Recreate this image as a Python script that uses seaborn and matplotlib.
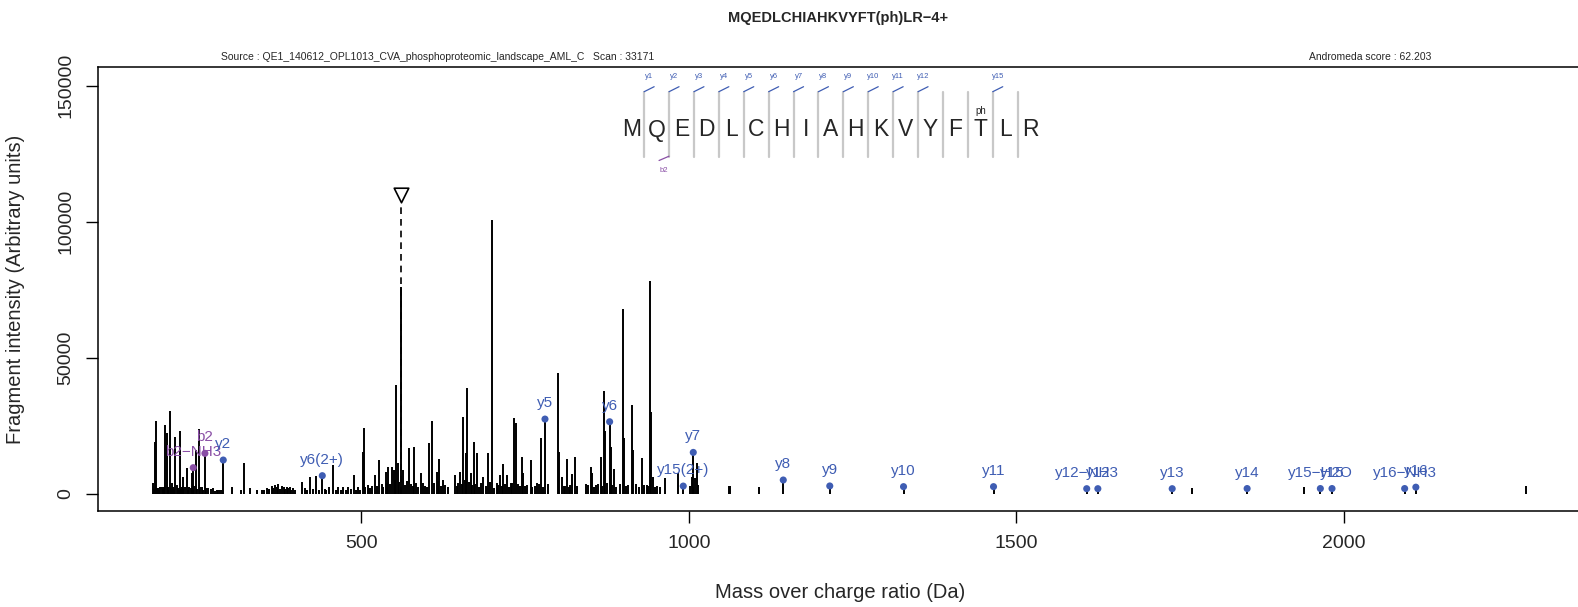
import matplotlib
matplotlib.use('Agg')
import matplotlib.pyplot as plt
import seaborn as sns
import pandas as pd

sns.set_style('ticks')
plt.rcParams['font.family'] = ['Liberation Sans', 'DejaVu Sans']

# ---------------- data ----------------
peak_mz = [182.2, 184.7, 186.2, 189.8, 192.3, 194.9, 200.0, 202.5, 205.1, 207.6, 210.1, 212.7,
           215.2, 217.8, 222.9, 225.4, 228.0, 233.0, 237.1, 240.7, 247.3, 251.9, 256.0, 266.1,
           273.8, 278.8, 283.9, 301.7, 320.6, 329.7, 347.5, 355.2, 362.8, 367.9, 373.0, 378.1,
           385.7, 390.8, 395.9, 408.6, 413.7, 421.3, 430.0, 450.3, 457.0, 464.6, 472.2, 479.9,
           489.0, 495.1,
           501.8, 503.8, 510.5, 520.6, 527.3, 536.9, 541.0, 546.1, 549.6, 552.7, 556.3, 560.3,
           563.9, 572.5, 580.2, 590.9, 594.4, 603.6, 608.2, 614.8, 618.9, 625.0, 642.8, 650.4,
           655.5, 659.6, 661.6, 666.7, 671.8, 676.9, 686.0, 692.6, 699.3, 706.4, 711.5, 716.6,
           721.7, 727.8, 732.8, 735.4, 744.5, 747.1, 758.3, 767.5, 774.1, 800.0, 802.0, 805.6,
           813.2, 821.9, 825.9, 842.2, 849.9, 852.4, 857.5, 865.1, 870.2, 871.7, 880.9, 885.5,
           898.7, 900.7, 907.4, 912.4, 915.0, 927.7, 935.3, 940.9, 942.5, 944.5, 951.6, 963.3,
           982.7, 1004.1, 1009.1, 1011.7, 1014.2,
           1060.5, 1063.0, 1107.6, 1767.3, 1939.0, 2278.6]
peak_int = [3900, 19220, 26940, 2070, 2680, 2440, 25350, 22280, 2680, 30490, 3910, 2680,
            21060, 3300, 23140, 2680, 6360, 9420, 2680, 7580, 16160, 23750, 2680, 2070,
            2070, 1460, 1460, 2680, 11260, 2070, 1460, 2070, 2930, 3300, 3660, 2930,
            2680, 2680, 2070, 4520, 2070, 6360, 6600, 2680, 10650, 2440, 2680, 2440,
            6970, 2680,
            15530, 24100, 3280, 6950, 12460, 8180, 9770, 10020, 8790, 40030, 11240, 75920,
            8790, 16750, 17360, 7560, 3890, 18830, 26920, 8180, 12710, 5110, 6950, 8180,
            28140, 14910, 39050, 7560, 19200, 15160, 6340, 14910, 100660, 3890, 6950, 11000,
            6950, 3890, 27780, 25940, 13440, 7560, 12460, 3890, 20670, 44560, 15530, 6340,
            12710, 7320, 13440, 3650, 10020, 7810, 3280, 13690, 37940, 23240, 17360, 9280,
            67830, 20430, 3280, 32550, 16140, 13080, 3280, 78370, 30220, 6340, 3030, 5730,
            7560, 6340, 5730, 11240, 3280,
            3000, 2800, 2500, 2100, 2500, 3000]

# small baseline peaks
noise_mz = [183.5, 188.0, 191.0, 196.5, 198.5, 204.0, 209.0, 214.0, 219.5, 221.0, 224.0, 227.0,
            230.5, 235.0, 239.0, 244.5, 249.5, 254.0, 258.5, 262.5, 270.0, 276.0, 281.5, 286.5,
            316.0, 341.0, 351.0, 359.0, 365.0, 370.5, 375.5, 381.0, 383.5, 388.0, 393.0, 399.0,
            417.0, 426.0, 435.0, 444.0, 446.5, 461.0, 468.5, 476.0, 484.0, 492.0, 498.0,
            506.0, 513.0, 516.0, 523.5, 531.0, 533.5, 538.5, 543.5, 551.0, 558.0, 566.5, 569.0,
            575.5, 578.0, 583.5, 587.0, 597.5, 600.5, 611.5, 616.5, 621.5, 628.0, 632.5, 645.5,
            648.0, 653.0, 657.5, 664.0, 669.0, 674.0, 680.0, 683.0, 689.5, 695.5, 702.5, 709.0,
            714.0, 719.0, 724.5, 730.5, 738.5, 741.5, 750.0, 753.5, 761.0, 764.5, 770.5, 777.5,
            784.5, 808.5, 811.0, 816.5, 819.0, 829.0, 846.0, 855.0, 861.5, 868.0, 875.5, 883.0,
            888.5, 895.0, 904.0, 919.0, 924.0, 931.0, 938.0, 947.5, 956.0, 1002.0, 1006.0]
noise_int = [1800, 2200, 1500, 1900, 2400, 1600, 2100, 1700, 2300, 1400, 2000, 1800,
             2500, 1600, 2200, 3100, 1900, 2600, 1500, 2300, 1700, 1200, 1400, 1300,
             1600, 1500, 1300, 1800, 2100, 2400, 1900, 2600, 1700, 2200, 1500, 1400,
             1600, 1900, 1500, 1700, 1300, 1400, 1600, 1500, 1800, 1600, 1400,
             2600, 2200, 3100, 2800, 3500, 2400, 4100, 3800, 5200, 4400, 3300, 4800,
             3600, 2900, 4200, 2700, 3100, 2500, 3900, 4600, 2800, 3200, 2400, 3000,
             4100, 3500, 5100, 4300, 3300, 3800, 2600, 3900, 3100, 4400, 2300, 3400,
             2900, 3700, 2600, 4200, 3600, 3100, 2800, 3300, 2500, 2900, 3800, 2700,
             3500, 2800, 3100, 2600, 3400, 2900, 3300, 2400, 3600, 2800, 4100, 3200,
             2700, 3500, 2900, 3800, 2600, 3400, 2800, 2600, 2400, 3000, 2700]

ion_label = ['b2\u2212NH3', 'b2', 'y2', 'y6(2+)', 'y5', 'y6', 'y15(2+)', 'y7', 'y8', 'y9',
             'y10', 'y11', 'y12\u2212NH3', 'y12', 'y13', 'y14', 'y15\u2212H2O', 'y15',
             'y16\u2212NH3', 'y16']
ion_type = ['b', 'b', 'y', 'y', 'y', 'y', 'y', 'y', 'y', 'y',
            'y', 'y', 'y', 'y', 'y', 'y', 'y', 'y', 'y', 'y']
ion_mz = [243.2, 261.0, 289.0, 440.2, 780.2, 878.9, 991.3, 1006.6, 1144.0, 1215.0,
          1327.6, 1465.0, 1607.3, 1624.3, 1737.8, 1852.2, 1964.0, 1981.8, 2092.7, 2109.8]
ion_int = [9670, 14930, 12480, 6730, 27530, 26550, 2910, 15280, 5140, 2950,
           2700, 2700, 1950, 1950, 1950, 2000, 2000, 2000, 2000, 2500]

precursor_mz = 560.3
precursor_mark = 109850

sequence = list('MQEDLCHIAHKVYFTLR')
y_marks = ['y1', 'y2', 'y3', 'y4', 'y5', 'y6', 'y7', 'y8', 'y9', 'y10', 'y11', 'y12',
           None, None, 'y15', None]
b_marks = [None, 'b2', None, None, None, None, None, None, None, None, None, None,
           None, None, None, None]

title = 'MQEDLCHIAHKVYFT(ph)LR\u22124+'
source_text = 'Source : QE1_140612_OPL1013_CVA_phosphoproteomic_landscape_AML_C   Scan : 33171'
score_text = 'Andromeda score : 62.203'

BLUE = '#3f5db3'
PURPLE = '#8a4fa6'

# ---------------- figure ----------------
W, H = 1578, 607
fig = plt.figure(figsize=(W / 100, H / 100), dpi=100)
fx = lambda px: px / W
fy = lambda py: 1 - py / H

ax = fig.add_axes([fx(97.5), fy(511), fx(1583) - fx(97.5), fy(67) - fy(511)])
ax.set_xlim(97.0, 2365.0)
ax.set_ylim(-6250, 156900)

peaks = pd.DataFrame({'mz': peak_mz + noise_mz, 'intensity': peak_int + noise_int})
ions = pd.DataFrame({'mz': ion_mz, 'intensity': ion_int, 'type': ion_type, 'label': ion_label})

ax.vlines(peaks['mz'], 0, peaks['intensity'], color='black', lw=1.4)
ax.vlines(ions['mz'], 0, ions['intensity'], color='black', lw=1.4)

# precursor
ax.vlines([precursor_mz], 0, [precursor_mark - 3500], color='black', lw=1.2,
          linestyles=(0, (4, 3)), zorder=4)
sns.scatterplot(x=[precursor_mz], y=[precursor_mark], marker='v', s=110,
                facecolor='white', edgecolor='black', linewidth=1.2, ax=ax, zorder=5)

sns.scatterplot(data=ions, x='mz', y='intensity', hue='type',
                palette={'y': BLUE, 'b': PURPLE}, s=26, edgecolor='none',
                legend=False, ax=ax, zorder=6)
for _, r in ions.iterrows():
    ax.annotate(r['label'], (r['mz'], r['intensity']), xytext=(0, 11.5),
                textcoords='offset points', ha='center', va='center',
                color=BLUE if r['type'] == 'y' else PURPLE, fontsize=11, zorder=7)

ax.set_xticks([500, 1000, 1500, 2000])
ax.set_xticklabels(['500', '1000', '1500', '2000'], fontsize=14)
ax.set_yticks([0, 50000, 100000, 150000])
ax.set_yticklabels(['0', '50000', '100000', '150000'], fontsize=14, rotation=90, va='center')
ax.tick_params(axis='both', length=8.6, width=1.0, color='black')
ax.tick_params(axis='x', pad=9)
ax.tick_params(axis='y', pad=8)
for s in ['left', 'bottom', 'top']:
    ax.spines[s].set_linewidth(1.1)
    ax.spines[s].set_color('black')
ax.spines['right'].set_visible(False)
ax.set_xlabel('')
ax.set_ylabel('')

fig.text(fx(840), fy(592), 'Mass over charge ratio (Da)', ha='center', va='center', fontsize=14.5)
fig.text(fx(16), fy(289), 'Fragment intensity (Arbitrary units)', ha='center', va='center',
         rotation=90, fontsize=14.5)
fig.text(fx(838), fy(18), title, ha='center', va='center', fontsize=10.5, fontweight='bold')
fig.text(fx(221), fy(57), source_text, ha='left', va='center', fontsize=7.5)
fig.text(fx(1309), fy(57), score_text, ha='left', va='center', fontsize=7.5)

# ---------------- peptide sequence ----------------
x0, step = 631.7, 24.9
ycen = 130
for i, aa in enumerate(sequence):
    fig.text(fx(x0 + i * step), fy(ycen), aa, ha='center', va='center', fontsize=16.5)
fig.text(fx(x0 + 14 * step), fy(111), 'ph', ha='center', va='center', fontsize=7)
for i in range(len(sequence) - 1):
    sx = x0 + (i + 0.5) * step
    fig.add_artist(plt.Line2D([fx(sx), fx(sx)], [fy(91.7), fy(156.7)],
                              transform=fig.transFigure, color='#c8c8c8', lw=1.6))
    if y_marks[i]:
        fig.add_artist(plt.Line2D([fx(sx), fx(sx + 10)], [fy(91.7), fy(86.7)],
                                  transform=fig.transFigure, color=BLUE, lw=0.9))
        fig.text(fx(sx + 5), fy(76.7), y_marks[i], ha='center', va='center', fontsize=5.5,
                 color=BLUE)
    if b_marks[i]:
        fig.add_artist(plt.Line2D([fx(sx - 10), fx(sx)], [fy(160.5), fy(156.2)],
                                  transform=fig.transFigure, color=PURPLE, lw=0.9))
        fig.text(fx(sx - 5), fy(170), b_marks[i], ha='center', va='center', fontsize=5.5,
                 color=PURPLE)

fig.savefig('out.png', dpi=100)
